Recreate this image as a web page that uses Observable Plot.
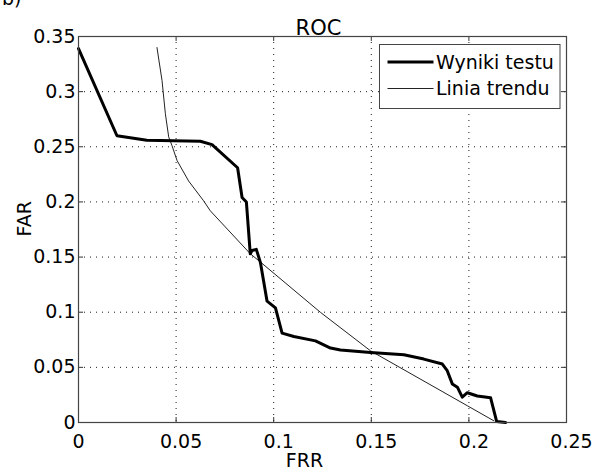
<!DOCTYPE html>
<html><head><meta charset="utf-8">
<script src="https://cdn.jsdelivr.net/npm/d3@7"></script>
<script src="https://cdn.jsdelivr.net/npm/@observablehq/plot@0.6"></script>
<style>
body{margin:0;background:#fff;}
#chart{width:596px;height:476px;}
</style></head><body><div id="chart"></div>
<script>
// --- data ---
const testFrr = [0, 0.0197, 0.035, 0.0624, 0.0684, 0.0815, 0.0838, 0.086, 0.088, 0.0889, 0.0911, 0.0932, 0.0966, 0.1009, 0.1043, 0.1103, 0.1214, 0.1291, 0.1342, 0.1496, 0.1667, 0.1769, 0.1864, 0.1889, 0.1915, 0.1941, 0.1966, 0.1992, 0.2043, 0.2111, 0.2142, 0.2188];
const testFar = [0.339, 0.260, 0.256, 0.255, 0.252, 0.231, 0.204, 0.200, 0.153, 0.156, 0.157, 0.145, 0.110, 0.104, 0.081, 0.078, 0.074, 0.0675, 0.0657, 0.0635, 0.0614, 0.0575, 0.053, 0.047, 0.035, 0.032, 0.023, 0.027, 0.024, 0.0225, 0.001, 0];
const trendFrr = [0.0402, 0.0428, 0.0445, 0.0462, 0.0479, 0.0505, 0.0564, 0.0641, 0.0675, 0.088, 0.0932, 0.124, 0.1496, 0.1992, 0.2128];
const trendFar = [0.340, 0.310, 0.280, 0.259, 0.251, 0.2375, 0.219, 0.201, 0.192, 0.153, 0.1455, 0.0998, 0.065, 0.0152, 0.0015];
const xTicks = [0, 0.05, 0.1, 0.15, 0.2, 0.25];
const yTicks = [0, 0.05, 0.1, 0.15, 0.2, 0.25, 0.3, 0.35];
const seriesNames = ["Wyniki testu", "Linia trendu"];
const titleText = "ROC";
const xLabel = "FRR";
const yLabel = "FAR";
const panelTag = "b)";

const test = testFrr.map((x, i) => ({x, y: testFar[i]}));
const trend = trendFrr.map((x, i) => ({x, y: trendFar[i]}));
const fmt = d => String(d);
const FONT = "DejaVu Sans";

const plot = Plot.plot({
  width: 596, height: 476,
  marginLeft: 78, marginRight: 30, marginTop: 36, marginBottom: 54,
  x: {domain: [0, 0.25], axis: null},
  y: {domain: [0, 0.35], axis: null},
  style: {fontFamily: FONT, background: "white", color: "#000"},
  marks: [
    Plot.ruleX(xTicks.slice(1, -1), {x: d => d, stroke: "#000", strokeOpacity: 0.9, strokeDasharray: "1,5"}),
    Plot.ruleY(yTicks.slice(1, -1), {y: d => d, stroke: "#000", strokeOpacity: 0.9, strokeDasharray: "1,5"}),
    // inner ticks (bottom/top, left/right)
    Plot.ruleX(xTicks, {x: d => d, y1: 0, y2: 0.0045, stroke: "#333"}),
    Plot.ruleX(xTicks, {x: d => d, y1: 0.35, y2: 0.3455, stroke: "#333"}),
    Plot.ruleY(yTicks, {y: d => d, x1: 0, x2: 0.0026, stroke: "#333"}),
    Plot.ruleY(yTicks, {y: d => d, x1: 0.25, x2: 0.2474, stroke: "#333"}),
    Plot.line(trend, {x: "x", y: "y", stroke: "#222", strokeWidth: 1}),
    Plot.line(test, {x: "x", y: "y", stroke: "#000", strokeWidth: 3, strokeLinejoin: "round"}),
    Plot.frame({stroke: "#444", strokeWidth: 1.2}),
    // tick labels
    Plot.text(xTicks.filter(d => d === 0), {x: d => d, y: 0, dy: 19, text: fmt, fontSize: 19}),
    Plot.text(xTicks.filter(d => d !== 0), {x: d => d, y: 0, dx: 5, dy: 19, text: fmt, fontSize: 19}),
    Plot.text(yTicks, {x: 0, y: d => d, dx: -3, textAnchor: "end", text: fmt, fontSize: 19}),
    // title and axis labels
    Plot.text([titleText], {frameAnchor: "top", dx: -4, dy: -16, fontSize: 21}),
    Plot.text([xLabel], {frameAnchor: "bottom", dx: -18, dy: 44, fontSize: 19}),
    Plot.text([yLabel], {frameAnchor: "left", dx: -54, dy: 7, rotate: -90, fontSize: 19})
  ]
});

const svg = d3.select(plot);
svg.attr("overflow", "visible");
// panel tag partially cut at top-left (as in the reference)
svg.append("text").attr("x", 2).attr("y", 5).attr("text-anchor", "start")
  .attr("font-family", FONT).attr("font-size", 19).text(panelTag);

// legend inside plot area
const lg = svg.append("g").attr("text-anchor", "start");
lg.append("rect").attr("x", 379.5).attr("y", 44.5).attr("width", 180.5).attr("height", 64)
  .attr("fill", "white").attr("stroke", "#444").attr("stroke-width", 1);
const lw = [3, 1];
seriesNames.forEach((name, i) => {
  const y = 62 + i * 26.5;
  lg.append("line").attr("x1", 387.5).attr("x2", 433.5).attr("y1", y).attr("y2", y)
    .attr("stroke", i === 0 ? "#000" : "#222").attr("stroke-width", lw[i]);
  lg.append("text").attr("x", 436).attr("y", y).attr("dy", "0.35em").attr("text-anchor", "start")
    .attr("font-family", FONT).attr("font-size", 19).text(name);
});

document.getElementById("chart").appendChild(plot);
</script></body></html>
